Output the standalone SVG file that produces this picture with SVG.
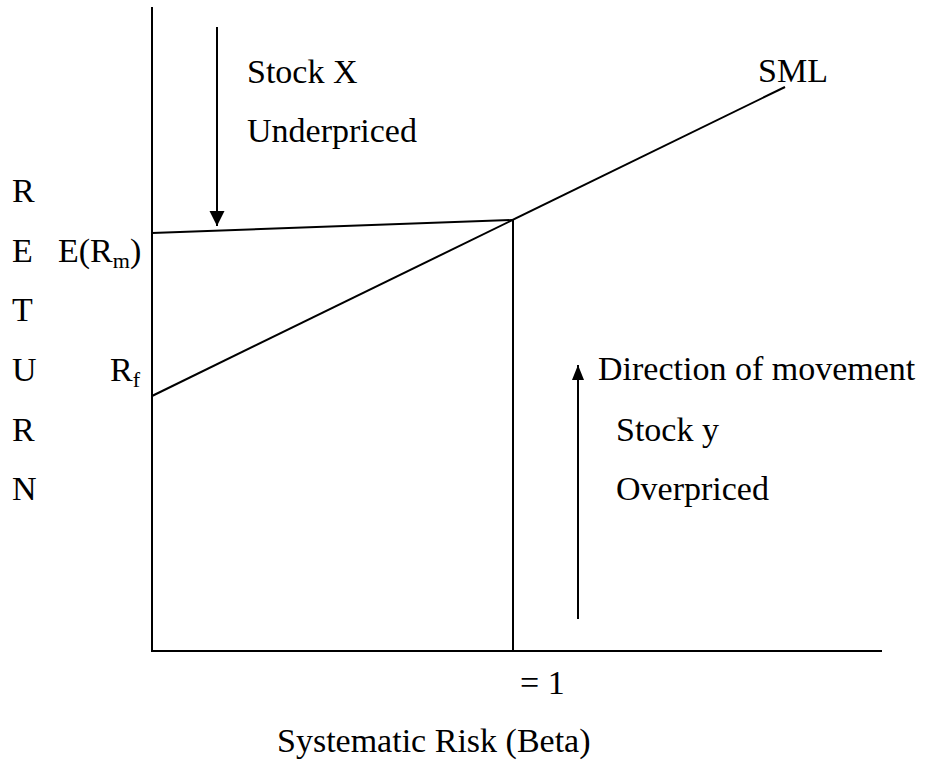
<svg xmlns="http://www.w3.org/2000/svg" width="925" height="762" viewBox="0 0 925 762">
<style>
text{font-family:"Liberation Serif","Times New Roman",serif;font-size:34px;fill:#000}
.sub{font-size:22px}
.ln{stroke:#000;stroke-width:2;fill:none}
</style>
<defs>
<marker id="ah" markerUnits="userSpaceOnUse" markerWidth="16" markerHeight="16" refX="15" refY="7.5" orient="auto">
<path d="M0,0 L15,7.5 L0,15 Z" fill="#000"/>
</marker>
<marker id="ah2" markerUnits="userSpaceOnUse" markerWidth="16" markerHeight="12" refX="15" refY="6" orient="auto">
<path d="M0,0 L15,6 L0,12 Z" fill="#000"/>
</marker>
</defs>
<g id="axes">
<line class="ln" x1="152" y1="7" x2="152" y2="652"/>
<line class="ln" x1="151" y1="651" x2="882" y2="651"/>
</g>
<g id="connectors">
<line id="sml" class="ln" x1="152" y1="396" x2="785" y2="87"/>
<line id="erm-line" class="ln" x1="152" y1="233" x2="513" y2="220"/>
<line id="beta1" class="ln" x1="513" y1="220" x2="513" y2="651"/>
<line id="arrow-down" class="ln" x1="217" y1="27" x2="217" y2="226" marker-end="url(#ah)"/>
<line id="arrow-up" class="ln" x1="578" y1="619" x2="578" y2="365" marker-end="url(#ah2)"/>
</g>
<g id="y-label">
<text x="12" y="202">R</text>
<text x="12" y="262">E</text>
<text x="12" y="321">T</text>
<text x="12" y="381">U</text>
<text x="12" y="441">R</text>
<text x="12" y="500">N</text>
</g>
<g id="erm"><text x="58" y="262">E(R<tspan class="sub" dy="6">m</tspan><tspan dy="-6">)</tspan></text></g>
<g id="rf"><text x="110" y="381">R<tspan class="sub" dy="6">f</tspan></text></g>
<g id="stock-x">
<text x="247" y="83">Stock X</text>
<text x="247" y="142">Underpriced</text>
</g>
<g id="sml-label"><text x="758" y="82">SML</text></g>
<g id="stock-y">
<text x="598" y="380">Direction of movement</text>
<text x="616" y="441">Stock y</text>
<text x="616" y="500">Overpriced</text>
</g>
<g id="x-labels">
<text x="520" y="694">= 1</text>
<text x="277" y="752">Systematic Risk (Beta)</text>
</g>
</svg>
